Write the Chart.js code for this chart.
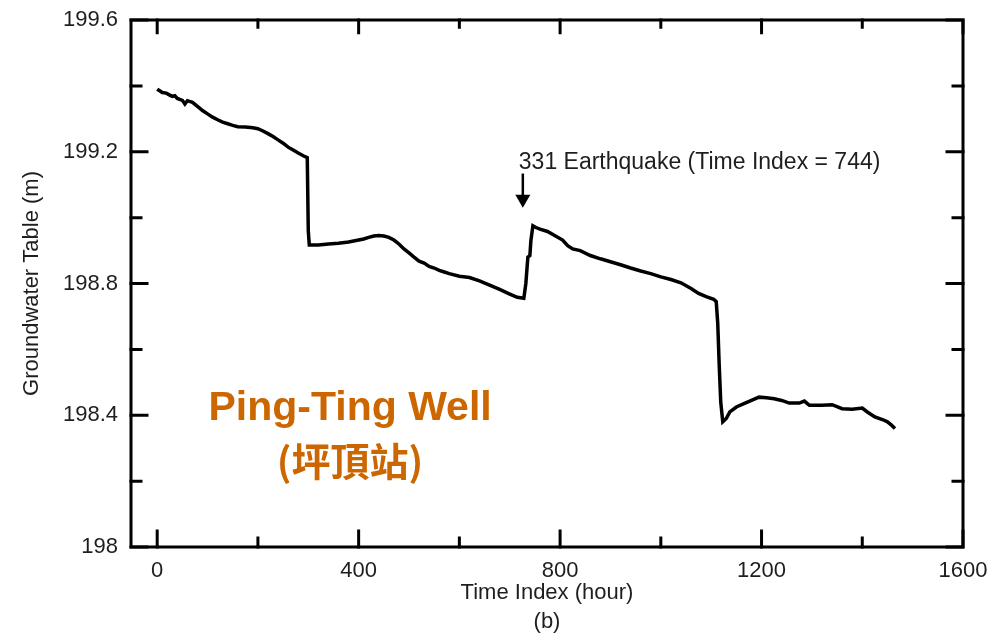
<!DOCTYPE html>
<html>
<head>
<meta charset="utf-8">
<script src="https://cdn.jsdelivr.net/npm/chart.js@4.4.1/dist/chart.umd.min.js"></script>
<style>
  html, body { margin: 0; padding: 0; background: #fff; }
  canvas { display: block; }
</style>
</head>
<body>
<canvas id="wellChart" width="1005" height="637"></canvas>
<script>
// Ping-Ting well groundwater table, hourly index
const timeIndex = [
  0, 5, 10, 18, 25, 30, 35, 40, 50, 55, 60, 70, 80, 90, 100, 110, 120, 130, 140, 150,
  160, 175, 190, 200, 210, 220, 230, 240, 250, 260, 270, 280, 290, 298, 300, 302, 320, 340, 360, 380,
  400, 410, 420, 430, 440, 450, 460, 470, 480, 490, 500, 510, 520, 530, 540, 550, 560, 570, 580, 600,
  620, 640, 660, 680, 700, 715, 728, 732, 736, 740, 742, 746, 752, 760, 775, 790, 805, 815, 825, 840,
  860, 880, 900, 920, 940, 960, 980, 1000, 1020, 1040, 1060, 1075, 1090, 1105, 1110, 1113, 1116, 1119, 1123, 1130,
  1137, 1150, 1165, 1180, 1195, 1210, 1225, 1240, 1255, 1275, 1285, 1295, 1320, 1340, 1360, 1380, 1400, 1410, 1425, 1440,
  1450, 1458, 1465
];
const waterLevel = [
  199.39, 199.385, 199.38, 199.378, 199.372, 199.368, 199.37, 199.362, 199.356, 199.345, 199.355, 199.35, 199.338, 199.325, 199.315, 199.305, 199.297, 199.29, 199.285, 199.28,
  199.276, 199.275, 199.273, 199.27, 199.263, 199.255, 199.246, 199.236, 199.226, 199.214, 199.205, 199.196, 199.188, 199.182, 198.96, 198.917, 198.917, 198.92, 198.922, 198.926,
  198.932, 198.935, 198.94, 198.944, 198.946, 198.944, 198.94, 198.932, 198.92, 198.905, 198.893, 198.88, 198.868, 198.862, 198.852, 198.847, 198.84, 198.835, 198.83, 198.822,
  198.818, 198.808, 198.795, 198.782, 198.768, 198.758, 198.755, 198.80, 198.88, 198.885, 198.93, 198.975, 198.97, 198.965, 198.958, 198.945, 198.932, 198.915, 198.905, 198.90,
  198.885, 198.875, 198.866, 198.857, 198.847, 198.838, 198.83, 198.82, 198.812, 198.802, 198.785, 198.77, 198.76, 198.752, 198.745, 198.68, 198.55, 198.44, 198.38, 198.39,
  198.41, 198.425, 198.435, 198.445, 198.455, 198.453, 198.45, 198.445, 198.437, 198.437, 198.443, 198.43, 198.43, 198.432, 198.42, 198.418, 198.422, 198.41, 198.395, 198.387,
  198.38, 198.37, 198.36
];

const xTickLabels = [0, 400, 800, 1200, 1600];
const xMinorTicks = [200, 600, 1000, 1400];
const yTickLabels = [198, 198.4, 198.8, 199.2, 199.6];
const yMinorTicks = [198.2, 198.6, 199.0, 199.4];

const quakeIndex = 726;
const quakeLabel = '331 Earthquake (Time Index = 744)';
const wellName = 'Ping-Ting Well';
const wellNameZh = '(坪頂站)';

const textColor = '#1e1e1e';
const baseFont = { family: '"Liberation Sans", Arial, sans-serif', size: 22, lineHeight: 1.2 };

// frame + inward ticks + notes
const framePlugin = {
  id: 'frame',
  afterDatasetsDraw(chart) {
    const { ctx, chartArea: a, scales: { x, y } } = chart;
    ctx.save();
    ctx.strokeStyle = '#000';
    ctx.lineWidth = 3;
    ctx.lineCap = 'square';
    ctx.strokeRect(a.left, a.top, a.right - a.left, a.bottom - a.top);

    ctx.beginPath();
    const xt = (v, len) => {
      const px = x.getPixelForValue(v);
      ctx.moveTo(px, a.bottom); ctx.lineTo(px, a.bottom - len);
      ctx.moveTo(px, a.top); ctx.lineTo(px, a.top + len * 0.8);
    };
    const yt = (v, len) => {
      const py = y.getPixelForValue(v);
      ctx.moveTo(a.left, py); ctx.lineTo(a.left + len, py);
      ctx.moveTo(a.right, py); ctx.lineTo(a.right - len, py);
    };
    xTickLabels.forEach((v) => xt(v, 16));
    xMinorTicks.forEach((v) => xt(v, 9));
    yTickLabels.forEach((v) => yt(v, 16));
    yMinorTicks.forEach((v) => yt(v, 10));
    ctx.stroke();

    // earthquake arrow
    const ax = x.getPixelForValue(quakeIndex);
    const ay = y.getPixelForValue(199.13);
    ctx.lineWidth = 2.5;
    ctx.beginPath();
    ctx.moveTo(ax, ay); ctx.lineTo(ax, ay + 22);
    ctx.stroke();
    ctx.fillStyle = '#000';
    ctx.beginPath();
    ctx.moveTo(ax - 7.5, ay + 20);
    ctx.lineTo(ax + 7.5, ay + 20);
    ctx.lineTo(ax, ay + 33);
    ctx.closePath();
    ctx.fill();

    ctx.fillStyle = textColor;
    ctx.font = '23px "Liberation Sans", Arial, sans-serif';
    ctx.textAlign = 'left';
    ctx.textBaseline = 'alphabetic';
    ctx.fillText(quakeLabel, x.getPixelForValue(718), y.getPixelForValue(199.148));

    ctx.fillStyle = '#cc6600';
    ctx.textAlign = 'center';
    ctx.textBaseline = 'middle';
    ctx.font = 'bold 41px "Liberation Sans", Arial, sans-serif';
    ctx.fillText(wellName, x.getPixelForValue(383), y.getPixelForValue(198.419));
    ctx.font = 'bold 39px "Noto Sans CJK TC", "Liberation Sans", sans-serif';
    ctx.fillText(wellNameZh, x.getPixelForValue(383), y.getPixelForValue(198.261));
    ctx.restore();
  },
};

const ctx = document.getElementById('wellChart').getContext('2d');
new Chart(ctx, {
  type: 'line',
  data: {
    datasets: [{
      data: timeIndex.map((t, i) => ({ x: t, y: waterLevel[i] })),
      borderColor: '#000',
      borderWidth: 3.5,
      pointRadius: 0,
      tension: 0,
      fill: false,
    }],
  },
  options: {
    responsive: false,
    animation: false,
    layout: { padding: { left: 0, right: 42, top: 20, bottom: 0 } },
    plugins: { legend: { display: false }, tooltip: { enabled: false } },
    scales: {
      x: {
        type: 'linear',
        min: -52,
        max: 1600,
        grid: { display: false, drawTicks: false },
        border: { display: false },
        afterBuildTicks: (s) => { s.ticks = xTickLabels.map((v) => ({ value: v })); },
        afterFit: (s) => {
          s.height = 90;
          s.paddingLeft = 0; s.paddingRight = 0; s.paddingTop = 0; s.paddingBottom = 0;
        },
        ticks: { font: baseFont, color: textColor, padding: 11, maxRotation: 0, callback: (v) => String(v) },
        title: {
          display: true,
          text: ['Time Index (hour)', '(b)'],
          color: textColor,
          font: { ...baseFont, lineHeight: 1.34 },
          padding: { top: 0, bottom: 0 },
        },
      },
      y: {
        type: 'linear',
        min: 198,
        max: 199.6,
        grid: { display: false, drawTicks: false },
        border: { display: false },
        afterBuildTicks: (s) => { s.ticks = yTickLabels.map((v) => ({ value: v })); },
        afterFit: (s) => {
          s.width = 131;
          s.paddingLeft = 0; s.paddingRight = 0; s.paddingTop = 0; s.paddingBottom = 0;
        },
        ticks: {
          font: baseFont,
          color: textColor,
          padding: 13,
          callback: (v) => String(Number(v.toFixed(1))),
        },
        title: {
          display: true,
          text: 'Groundwater Table (m)',
          color: textColor,
          font: baseFont,
          padding: { top: 19, bottom: 0 },
        },
      },
    },
  },
  plugins: [framePlugin],
});
</script>
</body>
</html>
